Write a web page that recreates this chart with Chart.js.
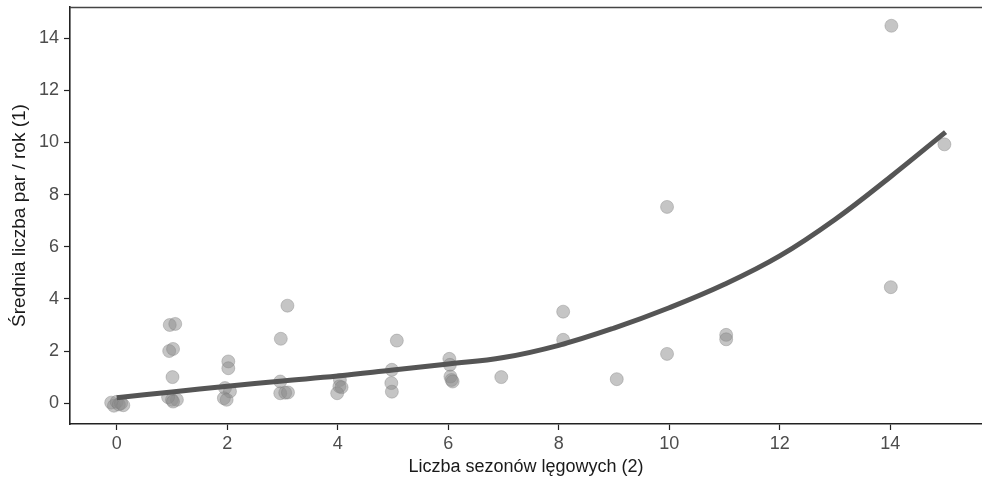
<!DOCTYPE html>
<html>
<head>
<meta charset="utf-8">
<script src="https://cdn.jsdelivr.net/npm/chart.js@4.4.1/dist/chart.umd.min.js"></script>
<style>
  html, body { margin: 0; padding: 0; background: #fff; }
  #wrap { width: 982px; height: 486px; }
</style>
</head>
<body>
<div id="wrap"><canvas id="c" width="982" height="486"></canvas></div>
<script>
// Observed points (breeding seasons, mean pairs per year), jittered as in the figure
const seasonsX = [
    -0.1, -0.05, 0, 0.04, 0.08, 0.12,
    0.96, 1.06, 0.95, 1.02, 1.01, 1.0, 1.09, 0.93, 1.02,
    2.02, 2.02, 1.96, 2.05, 1.94, 1.99,
    3.09, 2.97, 2.96, 2.96, 3.05, 3.1,
    4.04, 4.03, 4.07, 3.99,
    5.07, 4.98, 4.97, 4.98,
    6.02, 6.03, 6.04, 6.06, 6.08,
    6.96,
    8.08, 8.08,
    9.05,
    9.96, 9.96,
    11.03, 11.03,
    14.02, 14.01,
    14.98
];
const pairsY = [
    0.02, -0.1, 0.05, -0.05, 0, -0.08,
    3.0, 3.04, 2.0, 2.08, 1.0, 0.13, 0.13, 0.23, 0.06,
    1.6, 1.34, 0.58, 0.45, 0.19, 0.13,
    3.74, 2.47, 0.83, 0.38, 0.4, 0.41,
    0.89, 0.64, 0.61, 0.38,
    2.4, 1.28, 0.77, 0.44,
    1.7, 1.47, 1.02, 0.89, 0.83,
    1.0,
    3.51, 2.43,
    0.92,
    1.89, 7.53,
    2.62, 2.45,
    14.48, 4.45,
    9.93
];

// Fitted curve, read at whole seasons
const fitX = [0, 1, 2, 3, 4, 5, 6, 7, 8, 9, 10, 11, 12, 13, 14, 15];
const fitY = [0.21, 0.43, 0.65, 0.85, 1.04, 1.27, 1.5, 1.75, 2.22, 2.88, 3.66, 4.56, 5.65, 7.05, 8.68, 10.4];

const xTickValues = [0, 2, 4, 6, 8, 10, 12, 14];
const yTickValues = [0, 2, 4, 6, 8, 10, 12, 14];

const xTitle = 'Liczba sezonów lęgowych (2)';
const yTitle = 'Średnia liczba par / rok (1)';

const FONT = '"Liberation Sans", Arial, sans-serif';

// top panel border (no right border visible in the figure)
const topBorder = {
    id: 'topBorder',
    afterDraw(chart) {
        const { ctx, chartArea } = chart;
        ctx.save();
        ctx.strokeStyle = '#444';
        ctx.lineWidth = 1.3;
        ctx.beginPath();
        ctx.moveTo(chartArea.left, chartArea.top + 0.5);
        ctx.lineTo(chartArea.right, chartArea.top + 0.5);
        ctx.stroke();
        ctx.restore();
    }
};

new Chart(document.getElementById('c'), {
    type: 'scatter',
    data: {
        datasets: [
            {
                type: 'line',
                data: fitX.map((x, i) => ({ x: x, y: fitY[i] })),
                borderColor: '#555555',
                borderWidth: 5,
                pointRadius: 0,
                tension: 0.4,
                fill: false,
                order: 0
            },
            {
                data: seasonsX.map((x, i) => ({ x: x, y: pairsY[i] })),
                backgroundColor: 'rgba(140,140,140,0.5)',
                borderColor: 'rgba(120,120,120,0.35)',
                borderWidth: 1,
                pointRadius: 6.5,
                order: 1
            }
        ]
    },
    options: {
        responsive: false,
        animation: false,
        devicePixelRatio: 1,
        layout: { autoPadding: false, padding: { top: 7, right: 0, left: 0, bottom: 0 } },
        plugins: {
            legend: { display: false },
            tooltip: { enabled: false }
        },
        scales: {
            x: {
                type: 'linear',
                min: -0.845,
                max: 15.66,
                afterFit: s => { s.height = 62; s.paddingLeft = 0; s.paddingRight = 0; },
                afterBuildTicks: s => { s.ticks = xTickValues.map(v => ({ value: v })); },
                grid: { drawOnChartArea: false, tickLength: 6, tickColor: '#222', tickWidth: 1.2 },
                border: { display: true, color: '#222', width: 1.6 },
                ticks: { color: '#4d4d4d', padding: 3, font: { family: FONT, size: 18 } },
                title: {
                    display: true, text: xTitle, color: '#1a1a1a',
                    padding: { top: 0, bottom: 8 },
                    font: { family: FONT, size: 18 }
                }
            },
            y: {
                type: 'linear',
                min: -0.8,
                max: 15.2,
                afterFit: s => { s.width = 70; s.paddingTop = 0; s.paddingBottom = 0; },
                afterBuildTicks: s => { s.ticks = yTickValues.map(v => ({ value: v })); },
                grid: { drawOnChartArea: false, tickLength: 6, tickColor: '#222', tickWidth: 1.2 },
                border: { display: true, color: '#222', width: 1.6 },
                ticks: { color: '#4d4d4d', padding: 5, font: { family: FONT, size: 18 } },
                title: {
                    display: true, text: yTitle, color: '#1a1a1a',
                    padding: { top: 8, bottom: 0 },
                    font: { family: FONT, size: 19 }
                }
            }
        }
    },
    plugins: [topBorder]
});
</script>
</body>
</html>
